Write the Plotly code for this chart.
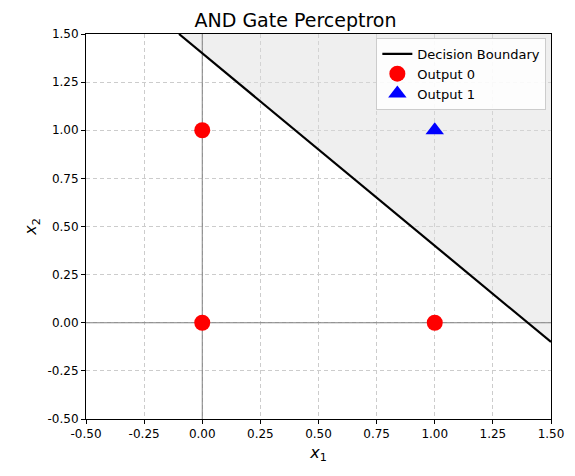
import plotly.graph_objects as go

boundary_x = [-0.1, 1.5]
boundary_y = [1.5, -0.1]
shade_x = [-0.1, 1.5, 1.5]
shade_y = [1.5, -0.1, 1.5]
out0_x = [0, 0, 1]
out0_y = [0, 1, 0]
out1_x = [1]
out1_y = [1]
ticks = [-0.5, -0.25, 0, 0.25, 0.5, 0.75, 1.0, 1.25, 1.5]

fig = go.Figure()
fig.add_trace(go.Scatter(x=shade_x, y=shade_y, fill="toself", fillcolor="rgba(220,220,220,0.45)",
                         line=dict(width=0), mode="lines", showlegend=False, hoverinfo="skip"))
fig.add_trace(go.Scatter(x=[-0.5, 1.5], y=[0, 0], mode="lines", line=dict(color="gray", width=1), showlegend=False))
fig.add_trace(go.Scatter(x=[0, 0], y=[-0.5, 1.5], mode="lines", line=dict(color="gray", width=1), showlegend=False))
fig.add_trace(go.Scatter(x=boundary_x, y=boundary_y, mode="lines", line=dict(color="black", width=2.2),
                         name="Decision Boundary"))
fig.add_trace(go.Scatter(x=out0_x, y=out0_y, mode="markers", marker=dict(color="red", size=16, symbol="circle"),
                         name="Output 0"))
fig.add_trace(go.Scatter(x=out1_x, y=out1_y, mode="markers", marker=dict(color="blue", size=16, symbol="triangle-up"),
                         name="Output 1"))

ax = dict(tickvals=ticks, ticktext=[f"{t:.2f}" for t in ticks], showgrid=True, gridcolor="#cccccc",
          griddash="4px,3px", gridwidth=1, zeroline=False, showline=True, linecolor="black", mirror=True,
          ticks="outside", ticklen=4, tickcolor="black", tickfont=dict(size=12, color="black"))
fig.update_xaxes(range=[-0.5, 1.5], title=dict(text="<i>x</i><sub>1</sub>", font=dict(size=16), standoff=6), **ax)
fig.update_yaxes(range=[-0.5, 1.5], title=dict(text="<i>x</i><sub>2</sub>", font=dict(size=16), standoff=6), **ax)
fig.update_layout(
    width=575, height=476, margin=dict(l=78, r=32, t=26, b=65, autoexpand=False),
    plot_bgcolor="white", paper_bgcolor="white",
    font=dict(family="DejaVu Sans", color="black"),
    title=dict(text="AND Gate Perceptron", x=0.5, xanchor="center", y=0.975, yanchor="middle", font=dict(size=19)),
    legend=dict(x=0.99, y=0.99, xanchor="right", yanchor="top", bordercolor="#cccccc", borderwidth=1,
                bgcolor="rgba(255,255,255,0.85)", font=dict(size=13)),
)
fig.write_html("out.html")
